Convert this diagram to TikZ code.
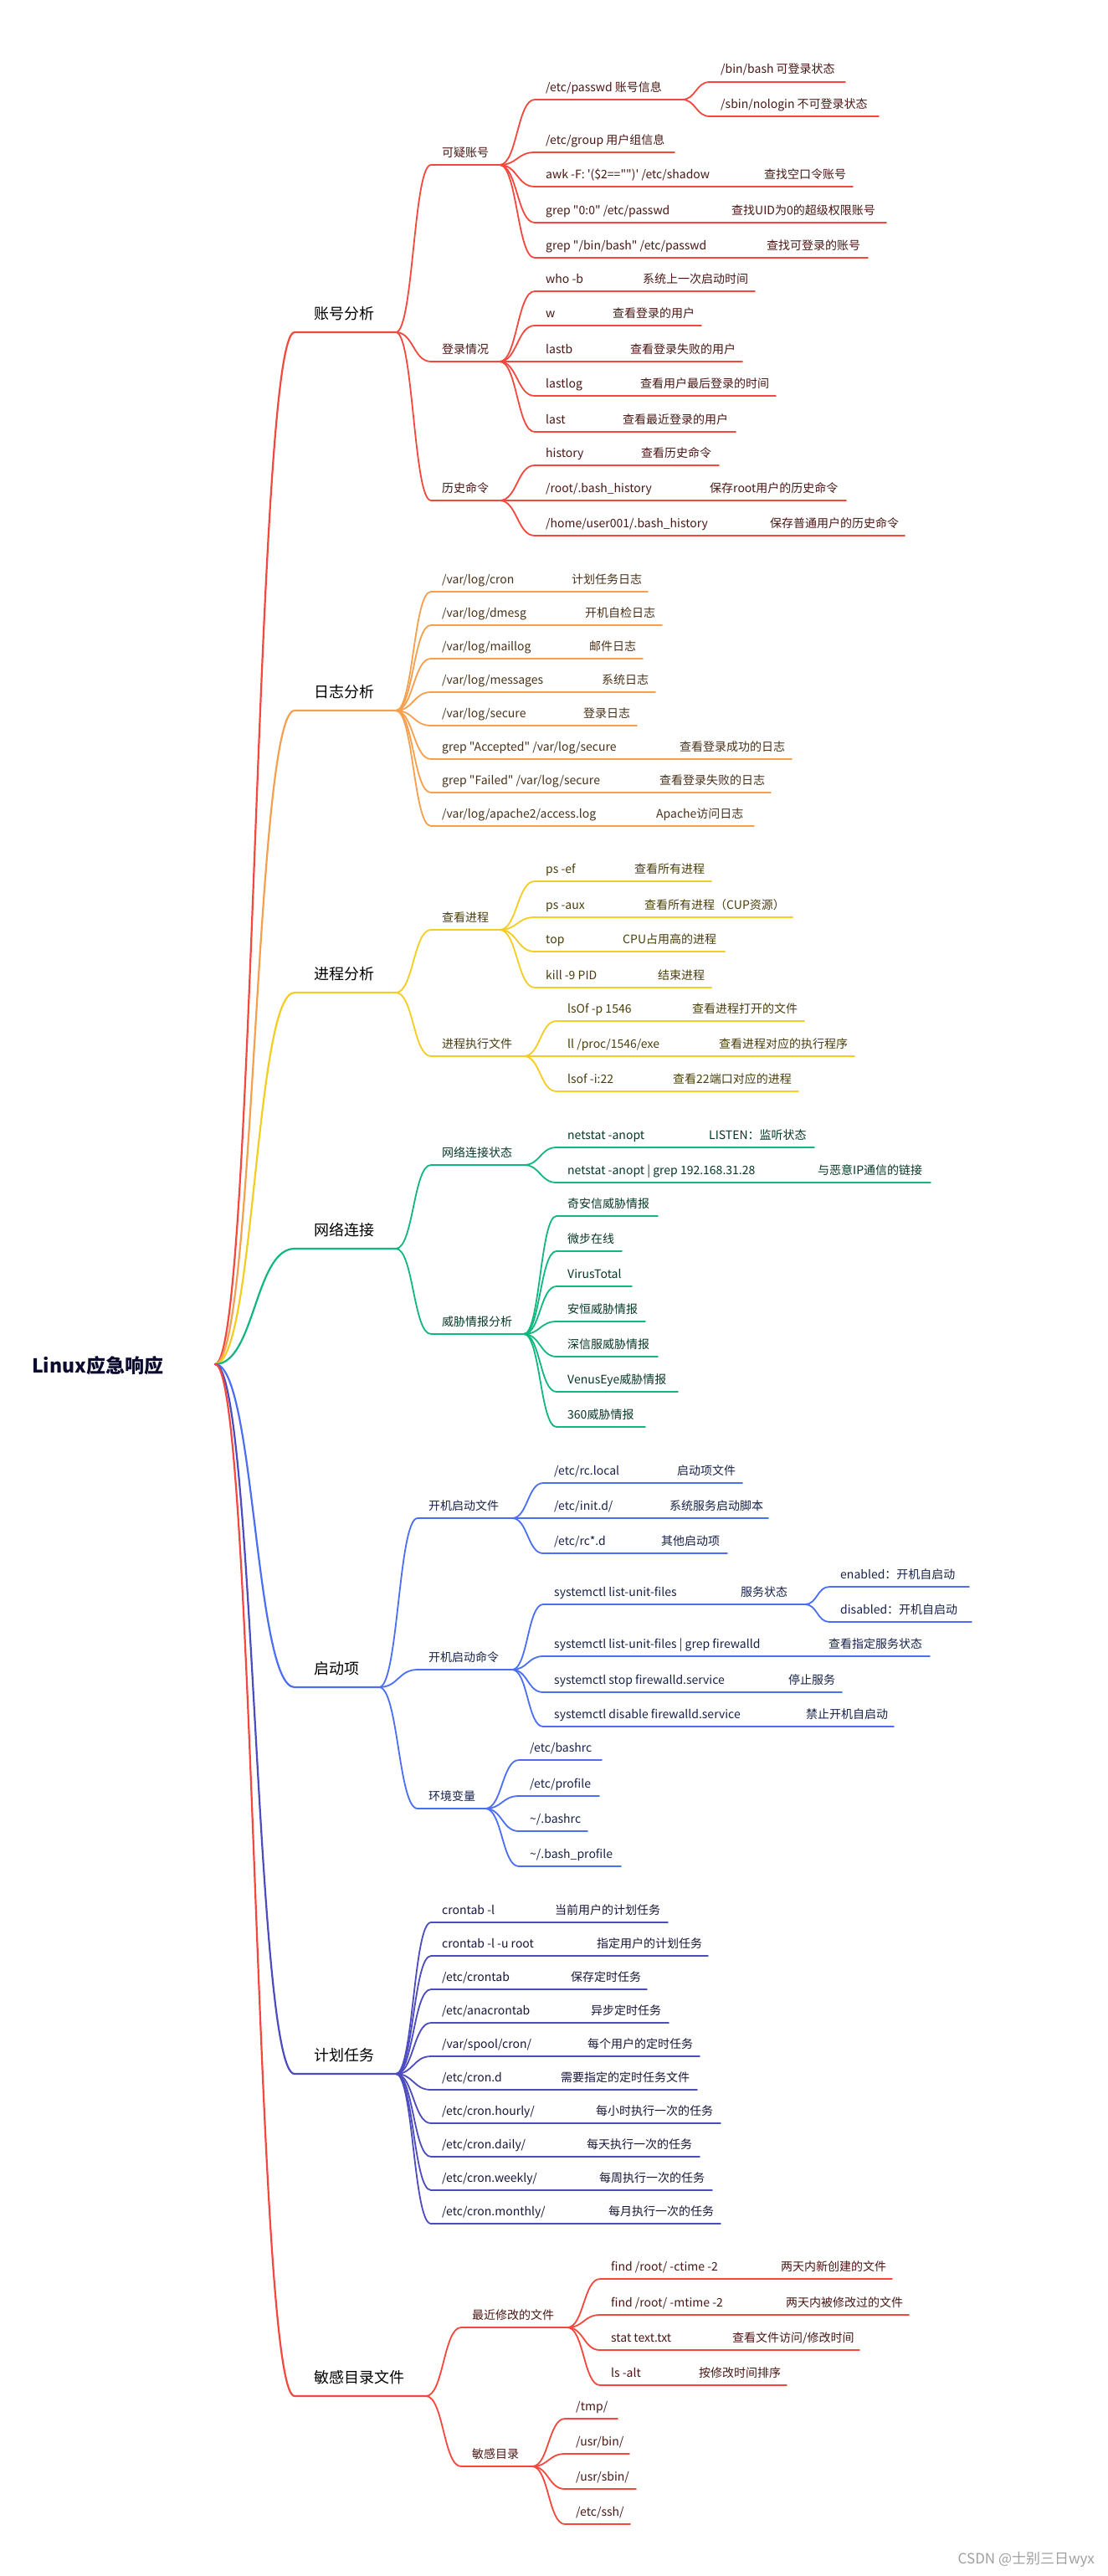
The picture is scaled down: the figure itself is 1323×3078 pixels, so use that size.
\documentclass[tikz,border=0pt]{standalone}
\usepackage{fontspec}
\setmainfont{Noto Sans CJK SC}[Ligatures=TeXOff]
\usetikzlibrary{calc}

\definecolor{zhred}{HTML}{F4483E}
\definecolor{logorange}{HTML}{F5A04E}
\definecolor{procyellow}{HTML}{F4CD22}
\definecolor{netgreen}{HTML}{12B77E}
\definecolor{bootblue}{HTML}{4B6EF5}
\definecolor{cronindigo}{HTML}{4C4BBF}
\definecolor{rootnavy}{HTML}{0C0C30}
\colorlet{br}{zhred}

\tikzset{
  label base/.style={anchor=base west,inner sep=0pt,text=br!30!black,
    font=\fontsize{14}{16}\selectfont},
  bough line/.style={draw=br,line width=2.2,line cap=round,line join=round},
  twig line/.style={draw=br,line width=1.8,line cap=round,line join=round},
  bough text/.style={label base,text=black,xshift=23,yshift=16,
    font=\fontsize{18}{20}\selectfont},
  twig text/.style={label base,xshift=13,yshift=10},
  note text/.style={label base,yshift=10},
  watermark/.style={anchor=east,inner sep=0pt,text=gray!75,
    font=\fontsize{17}{19}\selectfont}
}

% #1 level, #2 parent, #3 name, #4 x from, #5 x to, #6 y, #7 text
\newcommand{\twig}[7]{%
  \coordinate (#3-s) at (#4,#6);
  \coordinate (#3) at (#5,#6);
  \draw[#1 line] let \p1=(#2), \p2=(#3-s) in
    (\p1) .. controls ({0.5*\x1+0.5*\x2},\y1) and ({0.5*\x1+0.5*\x2},\y2) .. (\p2) -- (#3);
  \node[#1 text] (#3-t) at (#3-s) {#7};
}
% leaf with a second text: #7 its x, #8 the text
\newcommand{\twignote}[8]{%
  \twig{twig}{#1}{#2}{#3}{#4}{#5}{#6}
  \node[note text] (#2-n) at (#7,#5) {#8};
}

\begin{document}
\begin{tikzpicture}[x=1pt,y=-1pt]
  \useasboundingbox (0,0) rectangle (1323,3078);

  \node[anchor=west,inner sep=0pt,text=rootnavy,font=\fontsize{23}{25}\selectfont\bfseries]
    (root) at (38,1632) {Linux应急响应};
  \coordinate (hub) at (257,1630);

  \begin{scope}
  \colorlet{br}{zhred}
  \twig{bough}{hub}{acct}{352}{473}{397}{账号分析}
  \twig{twig}{acct}{susp}{515}{597}{197}{可疑账号}
  \twig{twig}{susp}{pwd}{639}{815}{119}{/etc/passwd 账号信息}
  \twig{twig}{pwd}{bash}{848}{1010}{98}{/bin/bash 可登录状态}
  \twig{twig}{pwd}{nolog}{848}{1050}{139}{/sbin/nologin 不可登录状态}
  \twig{twig}{susp}{grp}{639}{806}{182}{/etc/group 用户组信息}
  \twignote{susp}{awk}{639}{1019}{223}{awk -F: '(\$2=="")' /etc/shadow}{913}{查找空口令账号}
  \twignote{susp}{uid}{639}{1059}{266}{grep "0:0" /etc/passwd}{874}{查找UID为0的超级权限账号}
  \twignote{susp}{login}{639}{1037}{308}{grep "/bin/bash" /etc/passwd}{916}{查找可登录的账号}
  \twig{twig}{acct}{logon}{515}{597}{432}{登录情况}
  \twignote{logon}{whob}{639}{902}{348}{who -b}{768}{系统上一次启动时间}
  \twignote{logon}{w}{639}{838}{389}{w}{732}{查看登录的用户}
  \twignote{logon}{lastb}{639}{887}{432}{lastb}{753}{查看登录失败的用户}
  \twignote{logon}{lastlog}{639}{927}{473}{lastlog}{765}{查看用户最后登录的时间}
  \twignote{logon}{last}{639}{879}{516}{last}{744}{查看最近登录的用户}
  \twig{twig}{acct}{hist}{515}{597}{598}{历史命令}
  \twignote{hist}{history}{639}{859}{556}{history}{766}{查看历史命令}
  \twignote{hist}{roothist}{639}{1011}{598}{/root/.bash\_history}{848}{保存root用户的历史命令}
  \twignote{hist}{userhist}{639}{1081}{640}{/home/user001/.bash\_history}{920}{保存普通用户的历史命令}
  \end{scope}

  \begin{scope}
  \colorlet{br}{logorange}
  \twig{bough}{hub}{logs}{352}{473}{849}{日志分析}
  \twignote{logs}{cron}{515}{774}{707}{/var/log/cron}{683}{计划任务日志}
  \twignote{logs}{dmesg}{515}{791}{747}{/var/log/dmesg}{699}{开机自检日志}
  \twignote{logs}{mail}{515}{768}{787}{/var/log/maillog}{704}{邮件日志}
  \twignote{logs}{msg}{515}{783}{827}{/var/log/messages}{719}{系统日志}
  \twignote{logs}{secure}{515}{761}{867}{/var/log/secure}{697}{登录日志}
  \twignote{logs}{accept}{515}{946}{907}{grep "Accepted" /var/log/secure}{812}{查看登录成功的日志}
  \twignote{logs}{failed}{515}{921}{947}{grep "Failed" /var/log/secure}{788}{查看登录失败的日志}
  \twignote{logs}{apache}{515}{901}{987}{/var/log/apache2/access.log}{784}{Apache访问日志}
  \end{scope}

  \begin{scope}
  \colorlet{br}{procyellow}
  \twig{bough}{hub}{proc}{352}{473}{1186}{进程分析}
  \twig{twig}{proc}{pslist}{515}{597}{1111}{查看进程}
  \twignote{pslist}{psef}{639}{850}{1053}{ps -ef}{758}{查看所有进程}
  \twignote{pslist}{psaux}{639}{947}{1096}{ps -aux}{770}{查看所有进程（CUP资源）}
  \twignote{pslist}{topcpu}{639}{866}{1137}{top}{744}{CPU占用高的进程}
  \twignote{pslist}{kill}{639}{850}{1180}{kill -9 PID}{786}{结束进程}
  \twig{twig}{proc}{exe}{515}{626}{1262}{进程执行文件}
  \twignote{exe}{lsofp}{665}{961}{1220}{lsOf -p 1546}{827}{查看进程打开的文件}
  \twignote{exe}{ll}{665}{1021}{1262}{ll /proc/1546/exe}{859}{查看进程对应的执行程序}
  \twignote{exe}{lsofi}{665}{954}{1304}{lsof -i:22}{804}{查看22端口对应的进程}
  \end{scope}

  \begin{scope}
  \colorlet{br}{netgreen}
  \twig{bough}{hub}{net}{352}{473}{1492}{网络连接}
  \twig{twig}{net}{conn}{515}{626}{1392}{网络连接状态}
  \twignote{conn}{netstat}{665}{973}{1371}{netstat -anopt}{847}{LISTEN：监听状态}
  \twignote{conn}{netgrep}{665}{1112}{1413}{netstat -anopt | grep 192.168.31.28}{977}{与恶意IP通信的链接}
  \twig{twig}{net}{intel}{515}{626}{1594}{威胁情报分析}
  \twig{twig}{intel}{qax}{665}{786}{1453}{奇安信威胁情报}
  \twig{twig}{intel}{tbk}{665}{743}{1495}{微步在线}
  \twig{twig}{intel}{vt}{665}{755}{1537}{VirusTotal}
  \twig{twig}{intel}{dbapp}{665}{771}{1579}{安恒威胁情报}
  \twig{twig}{intel}{sangfor}{665}{786}{1621}{深信服威胁情报}
  \twig{twig}{intel}{venus}{665}{810}{1663}{VenusEye威胁情报}
  \twig{twig}{intel}{q360}{665}{771}{1705}{360威胁情报}
  \end{scope}

  \begin{scope}
  \colorlet{br}{bootblue}
  \twig{bough}{hub}{boot}{352}{453}{2016}{启动项}
  \twig{twig}{boot}{bootfile}{499}{612}{1814}{开机启动文件}
  \twignote{bootfile}{rclocal}{649}{887}{1772}{/etc/rc.local}{809}{启动项文件}
  \twignote{bootfile}{initd}{649}{918}{1814}{/etc/init.d/}{800}{系统服务启动脚本}
  \twignote{bootfile}{rcd}{649}{869}{1856}{/etc/rc*.d}{790}{其他启动项}
  \twig{twig}{boot}{bootcmd}{499}{612}{1995}{开机启动命令}
  \twignote{bootcmd}{units}{649}{962}{1917}{systemctl list-unit-files}{885}{服务状态}
  \twig{twig}{units}{enabled}{991}{1158}{1896}{enabled：开机自启动}
  \twig{twig}{units}{disabled}{991}{1161}{1938}{disabled：开机自启动}
  \twignote{bootcmd}{fwstate}{649}{1111}{1979}{systemctl list-unit-files | grep firewalld}{990}{查看指定服务状态}
  \twignote{bootcmd}{fwstop}{649}{1006}{2022}{systemctl stop firewalld.service}{942}{停止服务}
  \twignote{bootcmd}{fwoff}{649}{1068}{2063}{systemctl disable firewalld.service}{963}{禁止开机自启动}
  \twig{twig}{boot}{env}{499}{580}{2161}{环境变量}
  \twig{twig}{env}{bashrc}{620}{719}{2103}{/etc/bashrc}
  \twig{twig}{env}{profile}{620}{716}{2146}{/etc/profile}
  \twig{twig}{env}{ubashrc}{620}{702}{2188}{\textasciitilde/.bashrc}
  \twig{twig}{env}{uprofile}{620}{742}{2230}{\textasciitilde/.bash\_profile}
  \end{scope}

  \begin{scope}
  \colorlet{br}{cronindigo}
  \twig{bough}{hub}{sched}{352}{473}{2478}{计划任务}
  \twignote{sched}{crl}{515}{798}{2297}{crontab -l}{663}{当前用户的计划任务}
  \twignote{sched}{crlu}{515}{846}{2337}{crontab -l -u root}{713}{指定用户的计划任务}
  \twignote{sched}{etccron}{515}{773}{2377}{/etc/crontab}{682}{保存定时任务}
  \twignote{sched}{anacron}{515}{799}{2417}{/etc/anacrontab}{706}{异步定时任务}
  \twignote{sched}{spool}{515}{836}{2457}{/var/spool/cron/}{702}{每个用户的定时任务}
  \twignote{sched}{crond}{515}{833}{2497}{/etc/cron.d}{670}{需要指定的定时任务文件}
  \twignote{sched}{hourly}{515}{861}{2537}{/etc/cron.hourly/}{712}{每小时执行一次的任务}
  \twignote{sched}{daily}{515}{836}{2577}{/etc/cron.daily/}{701}{每天执行一次的任务}
  \twignote{sched}{weekly}{515}{851}{2617}{/etc/cron.weekly/}{716}{每周执行一次的任务}
  \twignote{sched}{monthly}{515}{861}{2657}{/etc/cron.monthly/}{727}{每月执行一次的任务}
  \end{scope}

  \begin{scope}
  \colorlet{br}{zhred}
  \twig{bough}{hub}{sens}{352}{509}{2863}{敏感目录文件}
  \twig{twig}{sens}{recent}{551}{678}{2781}{最近修改的文件}
  \twignote{recent}{ctime}{717}{1066}{2723}{find /root/ -ctime -2}{933}{两天内新创建的文件}
  \twignote{recent}{mtime}{717}{1086}{2766}{find /root/ -mtime -2}{939}{两天内被修改过的文件}
  \twignote{recent}{stat}{717}{1027}{2808}{stat text.txt}{875}{查看文件访问/修改时间}
  \twignote{recent}{lsalt}{717}{940}{2850}{ls -alt}{835}{按修改时间排序}
  \twig{twig}{sens}{sdirs}{551}{636}{2947}{敏感目录}
  \twig{twig}{sdirs}{tmp}{675}{738}{2890}{/tmp/}
  \twig{twig}{sdirs}{usrbin}{675}{752}{2932}{/usr/bin/}
  \twig{twig}{sdirs}{usrsbin}{675}{760}{2974}{/usr/sbin/}
  \twig{twig}{sdirs}{etcssh}{675}{753}{3016}{/etc/ssh/}
  \end{scope}

  \node[watermark] (csdn) at (1308,3058) {CSDN @士别三日wyx};
\end{tikzpicture}
\end{document}
